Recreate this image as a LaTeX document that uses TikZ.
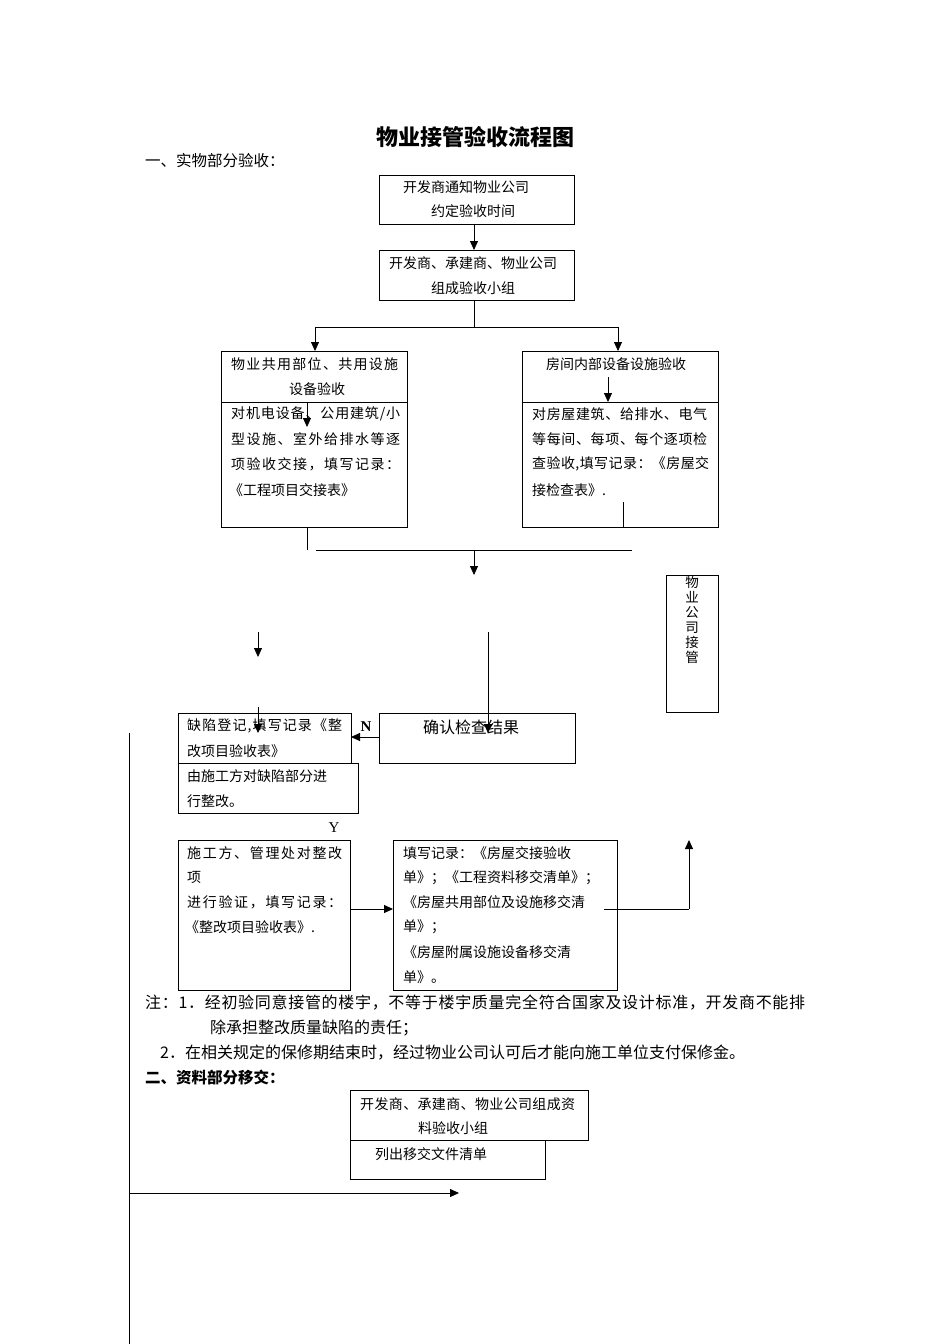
\documentclass[tikz,border=0pt]{standalone}
\usepackage{fontspec}
\setmainfont{Noto Sans CJK SC}
\newfontfamily\latinserif{Liberation Serif}
\usetikzlibrary{arrows.meta}
\makeatletter
\def\spreadaux#1#2\relax{#1\if\relax\detokenize{#2}\relax\else\hfil\spreadaux#2\relax\fi}
\newcommand\spreadto[2]{\makebox[#1][s]{\spreadaux#2\relax}}
\makeatother
\begin{document}
\begin{tikzpicture}[x=1pt,y=-1pt,
  box/.style={draw,line width=0.8pt,inner sep=0,anchor=north west},
  txt/.style={inner sep=0,anchor=west,font=\fontsize{14}{16}\selectfont},
  big/.style={inner sep=0,anchor=west,font=\fontsize{16}{18}\selectfont},
  ln/.style={line width=0.8pt},
  arr/.style={line width=0.8pt,-{Triangle[length=9pt,width=8pt]}}]
\useasboundingbox (0,0) rectangle (950,1344);

% title
\node[inner sep=0,font=\fontsize{22}{24}\selectfont\bfseries] (title) at (475,137) {物业接管验收流程图};
\node[big,font=\fontsize{15.5}{18}\selectfont] (sec1) at (145,161) {一、实物部分验收：};

% box 1
\node[box,minimum width=195pt,minimum height=49pt] (b1) at (379,175) {};
\node[txt] (b1a) at (403,187) {开发商通知物业公司};
\node[txt] (b1b) at (431,211) {约定验收时间};
% box 2
\node[box,minimum width=195pt,minimum height=50pt] (b2) at (379,250) {};
\node[txt] (b2a) at (389,263) {开发商、承建商、物业公司};
\node[txt] (b2b) at (431,288) {组成验收小组};
\coordinate (s0) at (474,327);
\draw[arr] (b1.south -| s0) -- (b2.north -| s0);

% split
\coordinate (sl) at (315,327);
\coordinate (sr) at (618,327);
% left box
\node[box,minimum width=186pt,minimum height=176pt] (b3) at (221,351) {};
\coordinate (b3d1) at (221,402);
\coordinate (b3d2) at (407,402);
\draw[ln] (b3d1) -- (b3d2);
\node[txt] (b3a) at (231,364) {\spreadto{167pt}{物业共用部位、共用设施}};
\node[txt] (b3b) at (289,389) {设备验收};
\node[txt] (b3c) at (231,414) {\spreadto{169pt}{对机电设备、公用建筑/小}};
\node[txt] (b3e) at (231,439) {\spreadto{169pt}{型设施、室外给排水等逐}};
\node[txt] (b3f) at (231,464) {\spreadto{169pt}{项验收交接，填写记录：}};
\node[txt] (b3g) at (229,490) {《工程项目交接表》};
\coordinate (a3s) at (307,402);
\coordinate (a3e) at (307,427);
\draw[arr] (a3s) -- (a3e);
% right box
\node[box,minimum width=196pt,minimum height=176pt] (b4) at (522,351) {};
\coordinate (b4d1) at (522,402);
\coordinate (b4d2) at (718,402);
\draw[ln] (b4d1) -- (b4d2);
\node[txt] (b4a) at (546,364) {房间内部设备设施验收};
\node[txt] (b4c) at (532,414) {\spreadto{175pt}{对房屋建筑、给排水、电气}};
\node[txt] (b4e) at (532,439) {\spreadto{175pt}{等每间、每项、每个逐项检}};
\node[txt] (b4f) at (532,464) {\spreadto{177pt}{查验收,填写记录：《房屋交}};
\node[txt] (b4g) at (532,490) {接检查表》.};
\coordinate (a4s) at (608,377);
\coordinate (a4e) at (608,402);
\draw[arr] (a4s) -- (a4e);
\coordinate (r4s) at (623,502);
\coordinate (r4e) at (623,527);
\draw[ln] (r4s) -- (r4e);

\draw[ln] (b2.south -| s0) -- (s0);
\draw[ln] (sl) -- (sr);
\draw[arr] (sl) -- (b3.north -| sl);
\draw[arr] (sr) -- (b4.north -| sr);

% join below
\coordinate (j1) at (307,527);
\coordinate (j2) at (307,550);
\draw[ln] (j1) -- (j2);
\coordinate (h1) at (316,550);
\coordinate (h2) at (632,550);
\coordinate (hm) at (474,550);
\coordinate (hme) at (474,575);
\draw[ln] (h1) -- (h2);
\draw[arr] (hm) -- (hme);

% take-over box
\node[box,minimum width=52pt,minimum height=137pt] (tk) at (666,575) {};
\node[inner sep=0,anchor=north,align=center,font=\fontsize{13.5}{15}\selectfont] (tkt) at (692,576) {物\\业\\公\\司\\接\\管};

% arrows middle
\coordinate (m1s) at (258,632);
\coordinate (m1e) at (258,657);
\draw[arr] (m1s) -- (m1e);
\coordinate (m2s) at (258,707);
\coordinate (m2e) at (258,733);

% defect boxes
\node[box,minimum width=173pt,minimum height=50pt] (b5) at (178,713) {};
\node[txt] (b5a) at (187,726) {\spreadto{155pt}{缺陷登记,填写记录《整}};
\node[txt] (b5b) at (187,751) {改项目验收表》};
\node[box,minimum width=180pt,minimum height=50pt] (b6) at (178,763) {};
\node[txt] (b6a) at (187,776) {由施工方对缺陷部分进};
\node[txt] (b6b) at (187,801) {行整改。};
\draw[arr] (m2s) -- (m2e);

% confirm box
\node[box,minimum width=196pt,minimum height=50pt] (b7) at (379,713) {};
\node[big] (b7a) at (423,727) {确认检查结果};
\coordinate (c1s) at (488,632);
\coordinate (c1e) at (488,733);
\draw[arr] (c1s) -- (c1e);
\coordinate (nA) at (379,737);
\coordinate (nB) at (351,737);
\draw[arr] (nA) -- (nB);
\node[inner sep=0,font=\latinserif\fontsize{15}{17}\selectfont\bfseries] (N) at (366,727) {N};
\node[inner sep=0,font=\latinserif\fontsize{15}{17}\selectfont] (Y) at (334,828) {Y};

% long left line
\coordinate (L1) at (129,733);
\coordinate (L2) at (129,1344);
\draw[ln] (L1) -- (L2);

% verify box
\node[box,minimum width=172pt,minimum height=150pt] (b8) at (178,840) {};
\node[txt] (b8a) at (187,853) {\spreadto{155pt}{施工方、管理处对整改}};
\node[txt] (b8b) at (187,877) {项};
\node[txt] (b8c) at (187,902) {\spreadto{155pt}{进行验证，填写记录：}};
\node[txt] (b8d) at (185,927) {《整改项目验收表》.};
% record box
\node[box,minimum width=224pt,minimum height=150pt] (b9) at (393,840) {};
\node[txt] (b9a) at (403,853) {填写记录：《房屋交接验收};
\node[txt] (b9b) at (403,878) {\spreadto{194pt}{单》；《工程资料移交清单》；}};
\node[txt] (b9c) at (403,902) {《房屋共用部位及设施移交清};
\node[txt] (b9d) at (403,927) {单》；};
\node[txt] (b9e) at (403,952) {《房屋附属设施设备移交清};
\node[txt] (b9f) at (403,977) {单》。};
\draw[arr] (b8.east |- 0,909) -- (b9.west |- 0,909);
\coordinate (u1) at (604,909);
\coordinate (u2) at (689,909);
\coordinate (u3) at (689,840);
\draw[ln] (u1) -- (u2);
\draw[arr] (u2) -- (u3);

% notes
\node[big] (n1) at (145,1003) {\spreadto{660pt}{注：1．经初验同意接管的楼宇，不等于楼宇质量完全符合国家及设计标准，开发商不能排}};
\node[big] (n2) at (210,1028) {除承担整改质量缺陷的责任；};
\node[big] (n3) at (160,1053) {2．在相关规定的保修期结束时，经过物业公司认可后才能向施工单位支付保修金。};
\node[big,font=\fontsize{15.5}{18}\selectfont\bfseries] (sec2) at (145,1078) {二、资料部分移交：};

% data boxes
\node[box,minimum width=238pt,minimum height=50pt] (b10) at (350,1090) {};
\node[txt] (b10a) at (360,1104) {\spreadto{215pt}{开发商、承建商、物业公司组成资}};
\node[txt] (b10b) at (418,1128) {料验收小组};
\node[box,minimum width=195pt,minimum height=39pt] (b11) at (350,1140) {};
\node[txt] (b11a) at (375,1154) {列出移交文件清单};
\coordinate (d1) at (129,1193);
\coordinate (d2) at (459,1193);
\draw[arr] (d1) -- (d2);
\end{tikzpicture}
\end{document}
